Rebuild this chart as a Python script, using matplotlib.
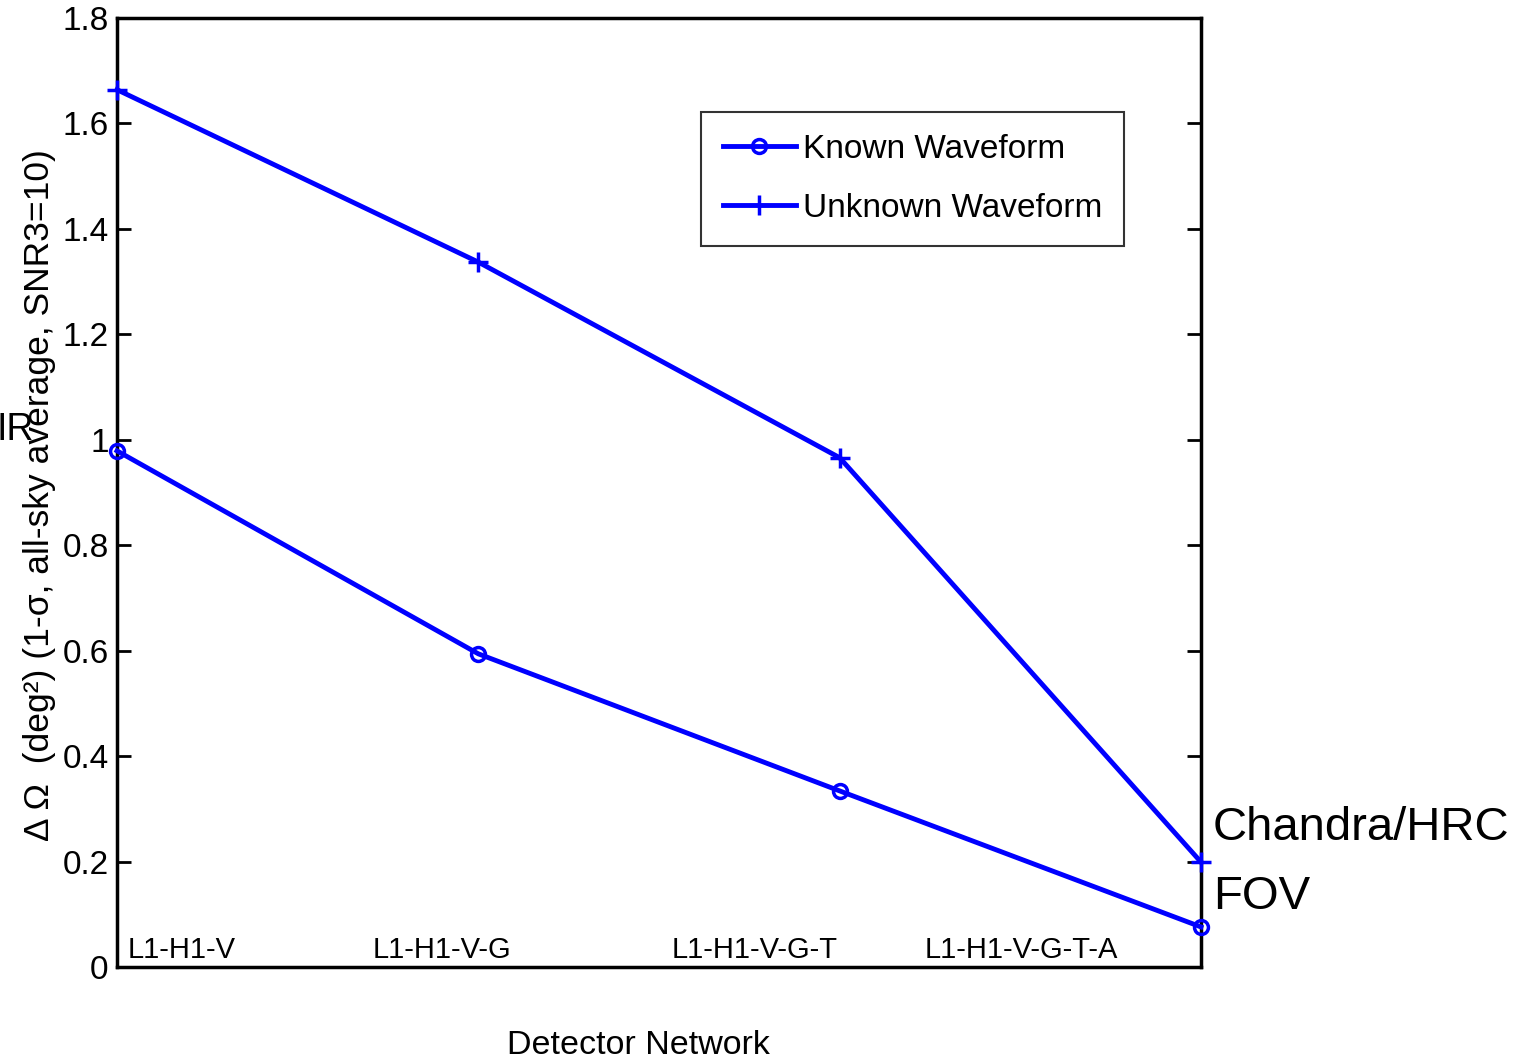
import matplotlib
matplotlib.use("Agg")
import matplotlib.pyplot as plt

# ---- data ----
x_pos = [1, 2, 3, 4]
networks = ["L1-H1-V", "L1-H1-V-G", "L1-H1-V-G-T", "L1-H1-V-G-T-A"]
known = [0.979, 0.594, 0.334, 0.076]
unknown = [1.664, 1.337, 0.966, 0.199]
yticks = [0, 0.2, 0.4, 0.6, 0.8, 1.0, 1.2, 1.4, 1.6, 1.8]
ytick_labels = ["0", "0.2", "0.4", "0.6", "0.8", "1", "1.2", "1.4", "1.6", "1.8"]
label_x = [1.03, 1.9, 2.766, 3.502]

plt.rcParams['font.family'] = ['Liberation Sans', 'DejaVu Sans']

fig = plt.figure(figsize=(15.26, 10.6), dpi=100)
ax = fig.add_axes([117/1526, 1 - 967/1060, (1201-117)/1526, (967-18)/1060])

blue = "#0000FF"
ax.plot(x_pos, known, color=blue, lw=3.5, marker='o', ms=10, mfc='none',
        mec=blue, mew=2.5, label="Known Waveform", clip_on=False, zorder=5)
ax.plot(x_pos, unknown, color=blue, lw=3.5, marker='+', ms=15,
        mec=blue, mew=2.5, label="Unknown Waveform", clip_on=False, zorder=5)

ax.set_xlim(1, 4)
ax.set_ylim(0, 1.8)
ax.set_xticks([])
ax.set_yticks(yticks)
ax.set_yticklabels(ytick_labels, fontsize=24)
ax.tick_params(axis='y', direction='in', length=10, width=2, left=True, right=True, pad=6)
for s in ax.spines.values():
    s.set_linewidth(2.5)
    s.set_color('black')

for xx, name in zip(label_x, networks):
    ha = 'left' if xx < 1.1 else 'center'
    ax.text(xx, 0.032, name, fontsize=21, ha=ha, va='center')

leg = ax.legend(loc='upper left', bbox_to_anchor=((701-117)/1084, (967-112)/949),
                borderaxespad=0, fontsize=24, frameon=True, fancybox=False,
                edgecolor='black', handlelength=2.2, borderpad=0.65,
                labelspacing=0.85, handletextpad=0.2)
leg.get_frame().set_linewidth(1.5)

fig.text(40/1526, 1 - 495/1060, "Δ Ω  (deg²) (1-σ, all-sky average, SNR3=10)",
         rotation=90, fontsize=25.5, ha='center', va='center')
fig.text(638/1526, 1 - 1045/1060, "Detector Network", fontsize=24.5, ha='center', va='center')

fig.text(1213/1526, 1 - 828/1060, "Chandra/HRC", fontsize=34, ha='left', va='center')
fig.text(1213/1526, 1 - 897/1060, "FOV", fontsize=34, ha='left', va='center')
fig.text(34/1526, 1 - 430/1060, "IR", fontsize=27, ha='right', va='center')

fig.savefig("out.png", dpi=100, facecolor='white')
